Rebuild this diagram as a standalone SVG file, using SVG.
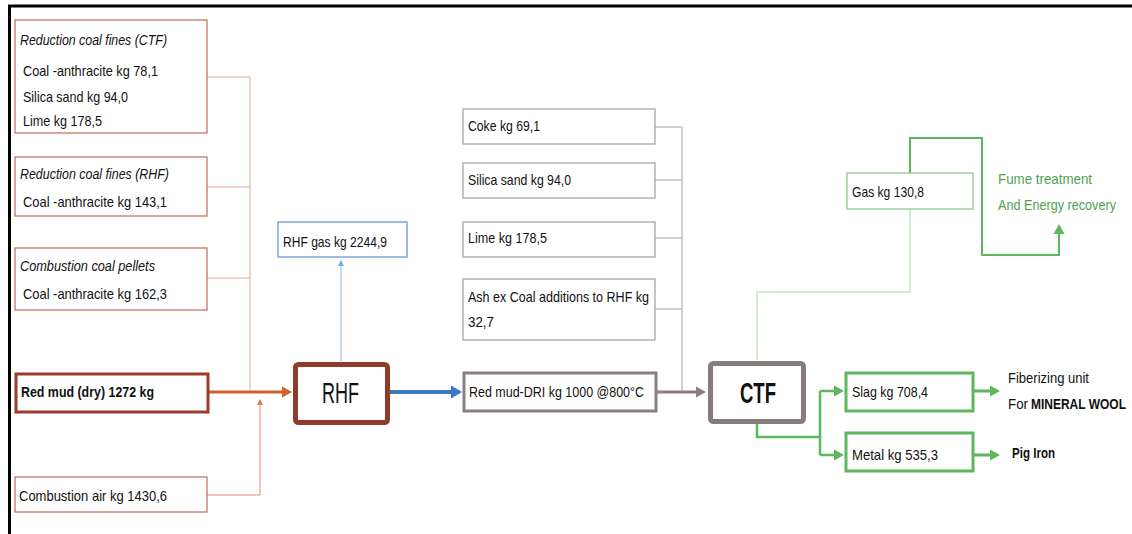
<svg xmlns="http://www.w3.org/2000/svg" width="1132" height="534" viewBox="0 0 1132 534">
<style>
text{font-family:"Liberation Sans",Arial,sans-serif;font-size:15px;fill:#111}
.it{font-style:italic}
.b{font-weight:bold}
.in{fill:#fff;stroke:#c0695a;stroke-width:1.2}
.gr{fill:#fff;stroke:#a49c9d;stroke-width:1.2}
.cl{fill:none;stroke:#e9a894;stroke-width:1}
.gl{fill:none;stroke:#aaa3a4;stroke-width:1}
.gn{fill:none;stroke:#5cb85c;stroke-width:2.5}
.big{font-size:29px}
.grn{fill:#4ea24e}
</style>
<defs>
<marker id="aR" markerWidth="12" markerHeight="12" refX="6" refY="6" orient="auto" markerUnits="userSpaceOnUse"><path d="M0,0.5 L10,6 L0,11.5 z" fill="#d0602e"/></marker>
<marker id="aB" markerWidth="14" markerHeight="14" refX="6" refY="7" orient="auto" markerUnits="userSpaceOnUse"><path d="M0,0.5 L11,7 L0,13.5 z" fill="#3a78c2"/></marker>
<marker id="aG" markerWidth="12" markerHeight="12" refX="6" refY="6" orient="auto" markerUnits="userSpaceOnUse"><path d="M0,0.5 L10,6 L0,11.5 z" fill="#8c7f80"/></marker>
<marker id="aN" markerWidth="12" markerHeight="12" refX="6" refY="6" orient="auto" markerUnits="userSpaceOnUse"><path d="M0,0.5 L10,6 L0,11.5 z" fill="#5cb85c"/></marker>
<marker id="aS" markerWidth="6" markerHeight="6" refX="5" refY="3" orient="auto" markerUnits="userSpaceOnUse"><path d="M0,0 L6,3 L0,6 z" fill="#e07a5a"/></marker>
<marker id="aL" markerWidth="6" markerHeight="6" refX="5" refY="3" orient="auto" markerUnits="userSpaceOnUse"><path d="M0,0 L6,3 L0,6 z" fill="#7aaae0"/></marker>
</defs>
<rect x="0" y="0" width="1132" height="534" fill="#fff"/>
<path d="M9.5,534 V6 H1132" fill="none" stroke="#000" stroke-width="3"/>

<g id="connectors">
<path class="cl" d="M207,77 H250 V392"/>
<path class="cl" d="M207,187 H250"/>
<path class="cl" d="M207,278 H250"/>
<path d="M208,392 H288" fill="none" stroke="#d0602e" stroke-width="3" marker-end="url(#aR)"/>
<path d="M207,495 H260 V400" fill="none" stroke="#e98a6c" stroke-width="1" marker-end="url(#aS)"/>
<path d="M341,361 V261" fill="none" stroke="#8fb8e4" stroke-width="1" marker-end="url(#aL)"/>
<path d="M390,392 H457" fill="none" stroke="#3a78c2" stroke-width="4" marker-end="url(#aB)"/>
<path class="gl" d="M655,127 H682 V392"/>
<path class="gl" d="M655,180 H682"/>
<path class="gl" d="M655,238 H682"/>
<path class="gl" d="M655,309 H682"/>
<path d="M656,392 H702" fill="none" stroke="#8c7f80" stroke-width="3" marker-end="url(#aG)"/>
<path d="M757,360 V292 H910 V210" fill="none" stroke="#a6d8a6" stroke-width="1"/>
<path d="M910,173 V138 H982 V255 H1059 V228" fill="none" stroke="#5cb85c" stroke-width="2" marker-end="url(#aN)"/>
<path class="gn" d="M757,424 V437 H820"/>
<path class="gn" d="M820,391 V455"/>
<path class="gn" d="M820,391 H840" marker-end="url(#aN)"/>
<path class="gn" d="M820,455 H840" marker-end="url(#aN)"/>
<path d="M973,391 H996" fill="none" stroke="#5cb85c" stroke-width="3" marker-end="url(#aN)"/>
<path d="M973,455 H996" fill="none" stroke="#5cb85c" stroke-width="3" marker-end="url(#aN)"/>
</g>

<g id="in-ctf">
<rect class="in" x="15" y="20" width="192" height="113"/>
<text class="it" x="20" y="45" textLength="147" lengthAdjust="spacingAndGlyphs">Reduction coal fines (CTF)</text>
<text x="23" y="76" textLength="135" lengthAdjust="spacingAndGlyphs">Coal -anthracite kg 78,1</text>
<text x="23" y="102" textLength="105" lengthAdjust="spacingAndGlyphs">Silica sand kg 94,0</text>
<text x="23" y="126" textLength="79" lengthAdjust="spacingAndGlyphs">Lime kg 178,5</text>
</g>
<g id="in-rhf">
<rect class="in" x="15" y="157" width="192" height="59"/>
<text class="it" x="20" y="179" textLength="149" lengthAdjust="spacingAndGlyphs">Reduction coal fines (RHF)</text>
<text x="23" y="207" textLength="144" lengthAdjust="spacingAndGlyphs">Coal -anthracite kg 143,1</text>
</g>
<g id="in-pellets">
<rect class="in" x="15" y="248" width="192" height="62"/>
<text class="it" x="20" y="271" textLength="135" lengthAdjust="spacingAndGlyphs">Combustion coal pellets</text>
<text x="23" y="299" textLength="144" lengthAdjust="spacingAndGlyphs">Coal -anthracite kg 162,3</text>
</g>
<g id="red-mud">
<rect x="16" y="374" width="192" height="38" fill="#fff" stroke="#9a3b2e" stroke-width="3"/>
<text class="b" x="21" y="397" textLength="133" lengthAdjust="spacingAndGlyphs">Red mud (dry) 1272 kg</text>
</g>
<g id="comb-air">
<rect class="in" x="15" y="477" width="192" height="35"/>
<text x="19" y="501" textLength="148" lengthAdjust="spacingAndGlyphs">Combustion air kg 1430,6</text>
</g>
<g id="rhf">
<rect x="295.5" y="364.5" width="92" height="58" rx="3" fill="#fff" stroke="#923a2c" stroke-width="5"/>
<text class="big" x="322" y="403" textLength="37" lengthAdjust="spacingAndGlyphs">RHF</text>
</g>
<g id="rhf-gas">
<rect x="278" y="222" width="129" height="35" fill="#fff" stroke="#5b8fd0" stroke-width="1.2"/>
<text x="283" y="247" textLength="104" lengthAdjust="spacingAndGlyphs">RHF gas kg 2244,9</text>
</g>
<g id="coke">
<rect class="gr" x="463" y="109" width="192" height="35"/>
<text x="468" y="131" textLength="72" lengthAdjust="spacingAndGlyphs">Coke kg 69,1</text>
</g>
<g id="silica">
<rect class="gr" x="463" y="163" width="192" height="35"/>
<text x="468" y="185" textLength="103" lengthAdjust="spacingAndGlyphs">Silica sand kg 94,0</text>
</g>
<g id="lime">
<rect class="gr" x="463" y="222" width="192" height="35"/>
<text x="468" y="243" textLength="79" lengthAdjust="spacingAndGlyphs">Lime kg 178,5</text>
</g>
<g id="ash">
<rect class="gr" x="463" y="279" width="192" height="61"/>
<text x="468" y="302" textLength="181" lengthAdjust="spacingAndGlyphs">Ash ex Coal additions to RHF kg</text>
<text x="468" y="327" textLength="26" lengthAdjust="spacingAndGlyphs">32,7</text>
</g>
<g id="dri">
<rect x="464" y="373" width="192" height="38" fill="#fff" stroke="#8c7f80" stroke-width="3"/>
<text x="469" y="397" textLength="175" lengthAdjust="spacingAndGlyphs">Red mud-DRI kg 1000 @800°C</text>
</g>
<g id="ctf">
<rect x="710.5" y="363.5" width="93" height="58" rx="3" fill="#fff" stroke="#877b7c" stroke-width="5"/>
<text class="big b" x="740" y="403" textLength="36" lengthAdjust="spacingAndGlyphs">CTF</text>
</g>
<g id="gas">
<rect x="847" y="173" width="126" height="36" fill="#fff" stroke="#86c886" stroke-width="1.2"/>
<text x="852" y="197" textLength="72" lengthAdjust="spacingAndGlyphs">Gas kg 130,8</text>
</g>
<g id="fume">
<text class="grn" x="998" y="184" textLength="94" lengthAdjust="spacingAndGlyphs">Fume treatment</text>
<text class="grn" x="998" y="210" textLength="118" lengthAdjust="spacingAndGlyphs">And Energy recovery</text>
</g>
<g id="slag">
<rect x="846" y="373" width="127" height="38" fill="#fff" stroke="#5cb85c" stroke-width="3"/>
<text x="852" y="397" textLength="76" lengthAdjust="spacingAndGlyphs">Slag kg 708,4</text>
</g>
<g id="metal">
<rect x="846" y="433" width="127" height="38" fill="#fff" stroke="#5cb85c" stroke-width="3"/>
<text x="852" y="460" textLength="86" lengthAdjust="spacingAndGlyphs">Metal kg 535,3</text>
</g>
<g id="fiber">
<text x="1008" y="383" textLength="81" lengthAdjust="spacingAndGlyphs">Fiberizing unit</text>
<text x="1008" y="409" textLength="20" lengthAdjust="spacingAndGlyphs">For</text>
<text class="b" x="1031" y="409" textLength="95" lengthAdjust="spacingAndGlyphs">MINERAL WOOL</text>
</g>
<g id="pig">
<text class="b" x="1012" y="458" textLength="43" lengthAdjust="spacingAndGlyphs">Pig Iron</text>
</g>
</svg>
